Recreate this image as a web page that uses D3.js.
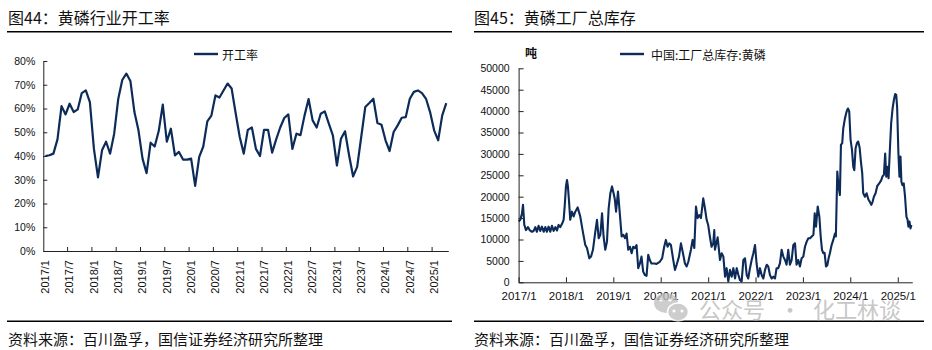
<!DOCTYPE html>
<html><head><meta charset="utf-8">
<script src="https://cdn.jsdelivr.net/npm/d3@7/dist/d3.min.js"></script>
<style>
body{margin:0;background:#fff}
svg{display:block}
text{font-family:"Liberation Sans",Arial,sans-serif;fill:#111}
.cjk{font-family:"Noto Sans CJK SC","Noto Sans",sans-serif}
</style></head><body>
<svg id="c" width="932" height="350"></svg>
<script>
// ---------- DATA ----------
// Left chart: 黄磷行业开工率 (monthly, %), 2017/1 – 2025/4
const rateStart = "2017-01", rateEnd = "2025-05";
const rateValues = [40,40.3,41,47,61,57.5,62,58.5,59.6,66.5,67.6,62.7,
  43,31,42.4,46,41,49.4,64,72,74.7,71.6,58.5,50.8,
  38.9,32.8,45.6,44,50.5,61.6,46,51.5,40.3,41.7,38.5,38.5,
  38.9,27.4,39.6,44,54.6,57,65.5,64.6,67.6,70.5,68.4,58,
  48,41,51,52,43,40,51,51,41.4,47,52,56,
  57.5,43,49.4,48.8,57,64,55,52,57.8,58.8,53.6,48.7,
  36,47.3,50.4,40.3,31.4,35.4,48,60.6,62.3,64.1,53.9,53.2,
  46.6,42.1,50.1,52.9,56.1,56.4,64.1,67,67.6,66.5,64.1,58.5,
  50.8,46.6,57.1,62.3];
const rateYTicks = [0,10,20,30,40,50,60,70,80];
const rateSeriesName = "开工率";

// Right chart: 中国:工厂总库存:黄磷 (吨)
const invDates = ["2017-01-01","2017-01-14","2017-01-27","2017-02-04","2017-02-14","2017-02-27","2017-03-14","2017-03-27","2017-04-14","2017-04-27",
"2017-05-10","2017-05-22","2017-06-04","2017-06-17","2017-06-30","2017-07-13","2017-07-26","2017-08-07","2017-08-20","2017-09-02",
"2017-09-15","2017-09-28","2017-10-11","2017-10-24","2017-11-05","2017-11-18","2017-12-01","2017-12-14","2017-12-22","2018-01-01",
"2018-01-09","2018-01-16","2018-01-24","2018-02-03","2018-02-16","2018-03-01","2018-03-14","2018-04-01","2018-04-21","2018-05-09",
"2018-05-30","2018-06-12","2018-06-30","2018-07-13","2018-07-28","2018-08-15","2018-08-28","2018-09-10","2018-09-23","2018-10-06",
"2018-10-18","2018-10-31","2018-11-13","2018-11-26","2018-12-09","2018-12-22","2019-01-03","2019-01-12","2019-01-22","2019-02-06",
"2019-02-21","2019-03-06","2019-03-19","2019-04-01","2019-04-13","2019-04-26","2019-05-09","2019-05-22","2019-06-03","2019-06-16",
"2019-06-29","2019-07-12","2019-07-25","2019-08-06","2019-08-19","2019-09-01","2019-09-14","2019-09-27","2019-10-09","2019-10-22",
"2019-11-12","2019-11-30","2019-12-25","2020-01-12","2020-01-28","2020-02-10","2020-02-23","2020-03-07","2020-03-20","2020-04-07",
"2020-04-20","2020-05-03","2020-05-21","2020-06-05","2020-06-18","2020-07-06","2020-07-19","2020-08-01","2020-08-21","2020-09-03",
"2020-09-16","2020-09-29","2020-10-12","2020-10-25","2020-11-06","2020-11-24","2020-12-07","2020-12-20","2021-01-01","2021-01-14",
"2021-01-27","2021-02-09","2021-02-17","2021-02-22","2021-03-15","2021-04-02","2021-04-15","2021-04-28","2021-05-11","2021-05-23",
"2021-06-05","2021-06-18","2021-07-01","2021-07-14","2021-07-27","2021-08-09","2021-08-22","2021-09-03","2021-09-16","2021-09-29",
"2021-10-12","2021-10-25","2021-11-06","2021-11-19","2021-12-02","2021-12-15","2021-12-28","2022-01-09","2022-01-22","2022-02-04",
"2022-02-17","2022-03-02","2022-03-15","2022-03-28","2022-04-09","2022-04-22","2022-05-05","2022-05-18","2022-05-31","2022-06-12",
"2022-06-25","2022-07-08","2022-07-21","2022-08-03","2022-08-16","2022-08-28","2022-09-10","2022-09-23","2022-10-06","2022-10-19",
"2022-11-01","2022-11-13","2022-11-26","2022-12-09","2022-12-22","2023-01-04","2023-01-17","2023-01-30","2023-02-12","2023-02-25",
"2023-03-10","2023-03-23","2023-04-02","2023-04-12","2023-04-25","2023-05-08","2023-05-18","2023-05-28","2023-06-07","2023-06-17",
"2023-06-28","2023-07-08","2023-07-18","2023-07-28","2023-08-10","2023-08-23","2023-09-05","2023-09-12","2023-09-23","2023-10-03",
"2023-10-13","2023-10-21","2023-10-31","2023-11-08","2023-11-21","2023-12-04","2023-12-14","2023-12-24","2024-01-03","2024-01-14",
"2024-01-24","2024-02-01","2024-02-11","2024-02-21","2024-03-02","2024-03-13","2024-03-23","2024-04-02","2024-04-10","2024-04-23",
"2024-05-06","2024-05-19","2024-05-31","2024-06-11","2024-06-21","2024-07-01","2024-07-14","2024-07-27","2024-08-11","2024-08-26",
"2024-09-06","2024-09-16","2024-09-26","2024-10-04","2024-10-12","2024-10-22","2024-11-01","2024-11-11","2024-11-22","2024-12-02",
"2024-12-12","2024-12-20","2024-12-27","2025-01-06","2025-01-14","2025-01-22","2025-01-29","2025-02-06","2025-02-16","2025-02-26",
"2025-03-09","2025-03-17","2025-03-24","2025-04-01","2025-04-09","2025-04-16"];
const invValues = [14200,14600,16100,18100,13400,12200,12900,12200,11800,12000,
12900,11800,13200,12000,13000,11800,12900,11800,13000,11800,
13200,12000,12900,12100,13400,12900,13600,14600,17700,22400,
23900,22400,19200,14600,16500,15400,16500,17500,15400,12200,
8700,8000,5600,6000,7600,11800,14600,10300,11100,16100,
10700,7600,9500,17300,20800,22400,20800,19500,16500,21200,
15700,10700,11100,10300,11400,7600,8300,6800,8300,8000,
8700,3300,4400,6000,2500,1700,1500,6400,5200,4400,
4400,4300,4800,5600,8300,9900,8300,9100,8700,5200,
2900,4100,6000,9100,7200,4400,3700,4800,7600,9900,
8000,17700,15000,15700,15000,19600,17300,14600,13400,10700,
8300,9100,12200,7600,10500,5200,6800,6000,1300,3300,
200,2900,1300,3300,900,3300,1700,500,200,5200,
5600,1700,900,3300,5200,6800,8700,4400,1300,3300,
1700,900,2900,4100,3700,1700,900,1300,900,3300,
3300,4400,7600,6000,5200,4100,7600,4100,5200,8700,
9100,4100,5200,3700,5600,6000,8300,9500,10300,10300,
10700,11100,16100,13000,17700,15300,10700,7600,6800,6900,
3700,4000,5600,6800,8700,9900,11400,10700,25900,22300,
20400,32100,32500,36000,38300,39900,40600,39900,33400,31000,
27000,26200,31300,32500,32900,31500,28200,25500,20800,20000,
20800,19400,18800,18100,18800,20000,20800,22500,23100,23800,
24800,25100,30100,24700,27000,24300,30900,37100,40600,42600,
44000,43800,41000,30100,24700,29400,23500,22700,23100,20000,
15300,14700,13000,14200,12600,13400];
const invYTicks = [0,5000,10000,15000,20000,25000,30000,35000,40000,45000,50000];
const invXTicks = ["2017","2018","2019","2020","2021","2022","2023","2024","2025"];
const invSeriesName = "中国:工厂总库存:黄磷";
const invUnit = "吨";

const titles = ["图44：黄磷行业开工率", "图45：黄磷工厂总库存"];
const sourceText = "资料来源：百川盈孚，国信证券经济研究所整理";

// ---------- DRAW ----------
const svg = d3.select("#c");
const LINE = "#0c2b59";
const fmtMonth = d3.timeFormat("%Y/%-m");

// titles, separators, footers
[[8, 7, 452], [474, 474, 924]].forEach(([tx, x1, x2], k) => {
  svg.append("text").attr("class","cjk").attr("x", tx).attr("y", 17)
    .attr("dominant-baseline","central").attr("font-size", 16).text(titles[k]);
  svg.append("line").attr("x1", x1).attr("x2", x2).attr("y1", 31.7).attr("y2", 31.7)
    .attr("stroke","#000").attr("stroke-width",1.4);
  svg.append("line").attr("x1", x1).attr("x2", x2).attr("y1", 321.3).attr("y2", 321.3)
    .attr("stroke","#000").attr("stroke-width",1.4);
  svg.append("text").attr("class","cjk").attr("x", tx).attr("y", 338)
    .attr("dominant-baseline","central").attr("font-size", 15).text(sourceText);
});

// ----- Left chart -----
const months = d3.timeMonths(d3.timeParse("%Y-%m")(rateStart), d3.timeParse("%Y-%m")(rateEnd)).map(fmtMonth);
const rateData = months.map((c, i) => ({c, v: rateValues[i]}));
const xL = d3.scaleBand().domain(months).range([43.3, 448.3]).padding(0);
const yL = d3.scaleLinear().domain([0, 80]).range([251, 61]);

const gyL = svg.append("g").attr("transform","translate(43.3,0)")
  .call(d3.axisLeft(yL).tickValues(rateYTicks).tickFormat(d => d + "%")
    .tickSizeInner(-4).tickSizeOuter(0).tickPadding(8));
gyL.selectAll("text").attr("font-size", 10.5).style("font-family","Liberation Sans, Arial, sans-serif");
gyL.select(".domain").attr("stroke","#222");
gyL.selectAll(".tick line").attr("stroke","#222");

const labelCats = months.filter((d, i) => i % 6 === 0);
const gxL = svg.append("g").attr("transform","translate(0,251)")
  .call(d3.axisBottom(xL).tickValues(labelCats).tickSize(0));
gxL.select(".domain").attr("stroke","#222");
gxL.selectAll("text").attr("font-size", 11)
  .style("font-family","Liberation Sans, Arial, sans-serif")
  .attr("transform","rotate(-90)").attr("text-anchor","end")
  .attr("x", -9).attr("y", 0).attr("dy","0.35em");
gxL.selectAll(".tickmark").data(months.filter((d, i) => i % 6 === 0 && i > 0))
  .join("line").attr("class","tickmark")
  .attr("x1", d => xL(d)).attr("x2", d => xL(d)).attr("y1", 0).attr("y2", -4)
  .attr("stroke","#222");

svg.append("path").datum(rateData)
  .attr("fill","none").attr("stroke", LINE).attr("stroke-width", 2.2)
  .attr("stroke-linejoin","round")
  .attr("d", d3.line().x(d => xL(d.c) + xL.bandwidth()/2).y(d => yL(d.v)));

// legend left
svg.append("line").attr("x1",194).attr("x2",218).attr("y1",54).attr("y2",54)
  .attr("stroke",LINE).attr("stroke-width",2.4);
svg.append("text").attr("class","cjk").attr("x",222).attr("y",54)
  .attr("dominant-baseline","central").attr("font-size",12).text(rateSeriesName);

// ----- Right chart -----
const parse = d3.timeParse("%Y-%m-%d");
const invData = invDates.map((d, i) => ({d: parse(d), v: invValues[i]}));
const xR = d3.scaleTime().domain([parse("2017-01-01"), parse("2025-04-23")]).range([518.6, 912.3]);
const yR = d3.scaleLinear().domain([0, 50000]).range([282.3, 68.3]);

const gyR = svg.append("g").attr("transform","translate(518.6,0)")
  .call(d3.axisLeft(yR).tickValues(invYTicks).tickFormat(d3.format("d"))
    .tickSizeInner(-5).tickSizeOuter(0).tickPadding(9));
gyR.selectAll("text").attr("font-size", 10.5).style("font-family","Liberation Sans, Arial, sans-serif");
gyR.select(".domain").attr("stroke","#222");
gyR.selectAll(".tick line").attr("stroke","#222");

const yearDates = invXTicks.map(y => parse(y + "-01-01"));
const gxR = svg.append("g").attr("transform","translate(0,282.3)")
  .call(d3.axisBottom(xR).tickValues(yearDates).tickFormat(fmtMonth)
    .tickSizeInner(-5).tickSizeOuter(0).tickPadding(10));
gxR.selectAll("text").attr("font-size", 11.5).style("font-family","Liberation Sans, Arial, sans-serif");
gxR.select(".domain").attr("stroke","#222");
gxR.selectAll(".tick line").attr("stroke","#222");

svg.append("path").datum(invData)
  .attr("fill","none").attr("stroke", LINE).attr("stroke-width", 2.1)
  .attr("stroke-linejoin","round")
  .attr("d", d3.line().x(d => xR(d.d)).y(d => yR(d.v)));

// unit + legend right
svg.append("text").attr("class","cjk").attr("x",531).attr("y",52)
  .attr("text-anchor","middle").attr("dominant-baseline","central")
  .attr("font-size",12).attr("font-weight","bold").text(invUnit);
svg.append("line").attr("x1",620).attr("x2",644).attr("y1",54).attr("y2",54)
  .attr("stroke",LINE).attr("stroke-width",2.4);
svg.append("text").attr("class","cjk").attr("x",651).attr("y",54)
  .attr("dominant-baseline","central").attr("font-size",12).text(invSeriesName);

// watermark
const wm = svg.append("g").attr("opacity",0.75);
wm.append("ellipse").attr("cx",666).attr("cy",303).attr("rx",12).attr("ry",10).attr("fill","#bdbdbd");
wm.append("ellipse").attr("cx",678).attr("cy",312).attr("rx",10.5).attr("ry",9)
  .attr("fill","#bdbdbd").attr("stroke","#fff").attr("stroke-width",1.5);
[[661,300],[670,300],[674,311],[682,311]].forEach(([x,y]) =>
  wm.append("circle").attr("cx",x).attr("cy",y).attr("r",1.6).attr("fill","#fff"));
wm.append("text").attr("class","cjk").attr("x",699).attr("y",308)
  .attr("dominant-baseline","central").attr("font-size",22).style("fill","#b5b5b5").text("公众号");
wm.append("text").attr("class","cjk").attr("x",790).attr("y",308).attr("text-anchor","middle")
  .attr("dominant-baseline","central").attr("font-size",22).style("fill","#b5b5b5").text("·");
wm.append("text").attr("class","cjk").attr("x",813).attr("y",308)
  .attr("dominant-baseline","central").attr("font-size",22).style("fill","#b5b5b5").text("化工林谈");
</script></body></html>
